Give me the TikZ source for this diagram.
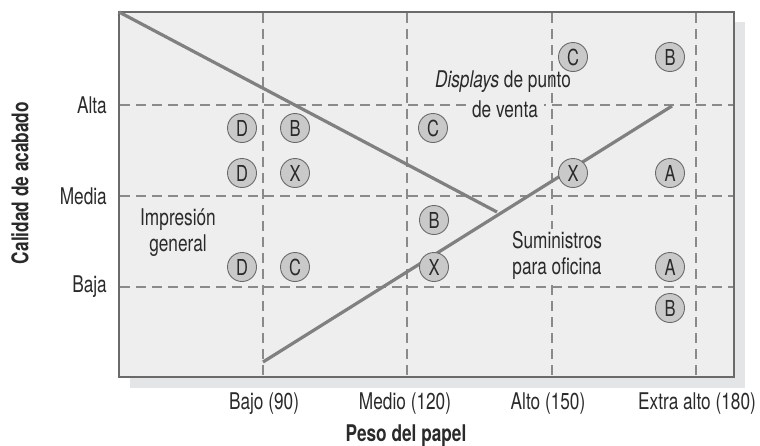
\documentclass[tikz,border=0pt]{standalone}
\usepackage{fontspec}
\setmainfont[FakeStretch=0.75]{TeX Gyre Heros}
\definecolor{bgc}{HTML}{EEEEEE}
\definecolor{shadowc}{HTML}{E4E5E7}
\definecolor{framec}{HTML}{6A6A6A}
\definecolor{gridc}{HTML}{8A8A8A}
\definecolor{linec}{HTML}{808080}
\definecolor{dotc}{HTML}{C9C9C9}
\definecolor{txtc}{HTML}{2A2A2A}
\begin{document}
\begin{tikzpicture}[x=1pt,y=-1pt,
  txt/.style={font=\fontsize{23}{26}\selectfont, text=txtc, inner sep=1pt, align=center},
  boldtxt/.style={font=\fontsize{23}{26}\selectfont\bfseries, text=txtc, inner sep=1pt},
  gridline/.style={draw=gridc, line width=1.2pt, dash pattern=on 10pt off 6pt},
  trend/.style={draw=linec, line width=3.2pt},
  dot/.style={circle, draw=framec, line width=0.9pt, fill=dotc, minimum size=29pt, inner sep=0pt,
    font=\fontsize{22}{26}\selectfont, text=txtc}]
\useasboundingbox (0,0) rectangle (760,445);
% shadow and frame
\fill[shadowc] (130,22) rectangle (745,388);
\draw[framec, fill=bgc, line width=2pt] (119,12) rectangle (734,377);
% grid
\foreach \x in {263,407,552,696} \draw[gridline] (\x,13) -- (\x,376);
\foreach \y in {105,196,287} \draw[gridline] (120,\y) -- (733,\y);
% trend lines
\coordinate (a1) at (119,12);
\coordinate (a2) at (497,212);
\coordinate (b1) at (263,362);
\coordinate (b2) at (672,106);
\draw[trend] (a1) -- (a2);
\draw[trend] (b1) -- (b2);
% region labels
\node[txt] (disp) at (503,82) {\textit{Displays} de punto};
\node[txt, fill=bgc, inner xsep=6pt, inner ysep=3pt] (venta) at (505,109) {de venta};
\node[txt] (impr) at (178,233) {Impresión\\general};
\node[txt, fill=bgc, inner sep=2pt] (sumi) at (557,255) {Suministros\\para oficina};
% dots
\node[dot] (d1) at (242,128) {D};
\node[dot] (b1n) at (295,128) {B};
\node[dot] (d2) at (242,173) {D};
\node[dot] (x1) at (295,173) {X};
\node[dot] (c1) at (433,128) {C};
\node[dot] (c2) at (573,57) {C};
\node[dot] (b2n) at (670,57) {B};
\node[dot] (x2) at (573,173) {X};
\node[dot] (a1n) at (670,173) {A};
\node[dot] (b3) at (434,220) {B};
\node[dot] (d3) at (242,267) {D};
\node[dot] (c3) at (295,267) {C};
\node[dot] (x3) at (434,267) {X};
\node[dot] (a2n) at (670,267) {A};
\node[dot] (b4) at (670,308) {B};
% axis labels
\node[txt, anchor=east] (alta) at (108,105) {Alta};
\node[txt, anchor=east] (media) at (108,196) {Media};
\node[txt, anchor=east] (baja) at (108,287) {Baja};
\node[boldtxt, rotate=90] (ylab) at (20,183) {Calidad de acabado};
\node[txt] (bajo) at (264,404) {Bajo (90)};
\node[txt] (medio) at (405,404) {Medio (120)};
\node[txt] (alto) at (548,404) {Alto (150)};
\node[txt] (extra) at (697,404) {Extra alto (180)};
\node[boldtxt, anchor=base] (xlab) at (406,441) {Peso del papel};
\end{tikzpicture}
\end{document}
